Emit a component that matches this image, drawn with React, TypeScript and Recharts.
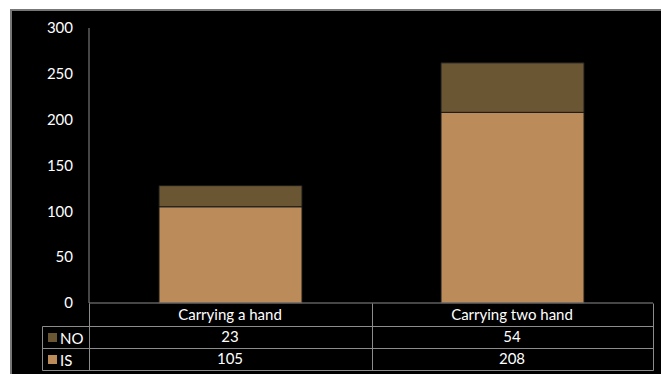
import { Bar, BarChart, XAxis, YAxis } from 'recharts';

const categories = ['Carrying a hand', 'Carrying two hand'];
const noValues = [23, 54];
const isValues = [105, 208];
const yTicks = [0, 50, 100, 150, 200, 250, 300];

const data = categories.map((name, i) => ({ name, IS: isValues[i], NO: noValues[i] }));

const font = 'Lato, "Open Sans", sans-serif';
const gridColor = '#8c8c8c';
const noColor = '#6b5634';
const isColor = '#bb8c5a';

// category label + the two values of the data table under each bar
const TableTick = ({ x, y, payload }: any) => {
    const i = payload.index;
    return (
        <g>
            <text x={x} y={y + 11} textAnchor='middle' dominantBaseline='central' fill='#fff' fontSize={15} fontFamily={font}>{categories[i]}</text>
            <text x={x} y={y + 33} textAnchor='middle' dominantBaseline='central' fill='#fff' fontSize={15} fontFamily={font}>{noValues[i]}</text>
            <text x={x} y={y + 55} textAnchor='middle' dominantBaseline='central' fill='#fff' fontSize={15} fontFamily={font}>{isValues[i]}</text>
        </g>
    )
};

export default function App() {
    return (
        <div style={{ position: 'absolute', left: 0, top: 0, width: 661, height: 374, background: '#fff', overflow: 'hidden' }}>
            <div style={{ position: 'absolute', left: 10, top: 9, width: 651, height: 365, background: '#000', borderTop: '2px solid #777', borderLeft: '2px solid #777', boxSizing: 'border-box' }} />
            <div style={{ position: 'absolute', left: 0, top: 0 }}>
                <BarChart width={661} height={374} data={data} margin={{ top: 28, right: 8, bottom: 0, left: 0 }}>
                    <YAxis
                        width={89}
                        domain={[0, 300]}
                        ticks={yTicks}
                        interval={0}
                        tickLine={false}
                        tickSize={0}
                        tickMargin={16}
                        axisLine={{ stroke: gridColor }}
                        tick={{ fill: '#fff', fontSize: 15, fontFamily: font }}
                    />
                    <XAxis
                        dataKey='name'
                        height={71}
                        tickLine={false}
                        tickSize={0}
                        tickMargin={0}
                        axisLine={{ stroke: gridColor }}
                        tick={<TableTick />}
                        interval={0}
                    />
                    <Bar dataKey='IS' stackId='a' fill={isColor} stroke='#1a1a1a' strokeWidth={1} barSize={143} isAnimationActive={false} />
                    <Bar dataKey='NO' stackId='a' fill={noColor} stroke='#1a1a1a' strokeWidth={1} barSize={143} isAnimationActive={false} />
                </BarChart>
            </div>
            <svg width={661} height={374} style={{ position: 'absolute', left: 0, top: 0, pointerEvents: 'none' }}>
                <g stroke={gridColor} strokeWidth={1} fill='none'>
                    <line x1={42.5} y1={326.5} x2={42.5} y2={370.5} />
                    <line x1={89.5} y1={303.5} x2={89.5} y2={370.5} />
                    <line x1={372.5} y1={303.5} x2={372.5} y2={370.5} />
                    <line x1={653.5} y1={303.5} x2={653.5} y2={370.5} />
                    <line x1={42.5} y1={326.5} x2={653.5} y2={326.5} />
                    <line x1={42.5} y1={348.5} x2={653.5} y2={348.5} />
                    <line x1={42.5} y1={370.5} x2={653.5} y2={370.5} />
                </g>
                <rect x={48} y={333} width={9} height={9} fill={noColor} />
                <rect x={48} y={355} width={9} height={9} fill={isColor} />
                <text x={60} y={338} dominantBaseline='central' fill='#fff' fontSize={15} fontFamily={font}>NO</text>
                <text x={60} y={360} dominantBaseline='central' fill='#fff' fontSize={15} fontFamily={font}>IS</text>
            </svg>
        </div>
    )
}
